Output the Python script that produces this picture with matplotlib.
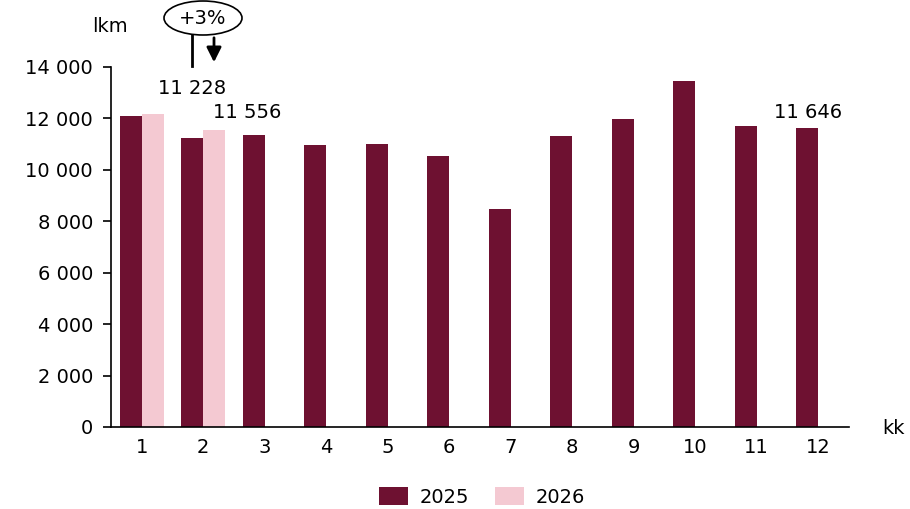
import numpy as np
import matplotlib.pyplot as plt
from matplotlib.patches import Ellipse

months = [str(m) for m in range(1, 13)]
values_2025 = [12100, 11228, 11360, 10970, 11010, 10545, 8480, 11320, 11980, 13460, 11710, 11646]
values_2026 = [12180, 11556]
series_names = ['2025', '2026']
colors = ['#6e1131', '#f4c9d2']

plt.rcParams['font.family'] = 'DejaVu Sans'
plt.rcParams['font.size'] = 14

fig = plt.figure(figsize=(9.1, 5.09), dpi=100)
ax = fig.add_axes([111 / 910, 1 - 427 / 509, 738 / 910, 360 / 509])

x = np.arange(1, len(months) + 1)
width = 0.355
ax.bar(x - width / 2, values_2025, width, color=colors[0], label=series_names[0])
ax.bar(x[:len(values_2026)] + width / 2, values_2026, width, color=colors[1], label=series_names[1])

ax.set_xlim(0.5, 12.5)
ax.set_ylim(0, 14000)
ax.set_yticks(np.arange(0, 14001, 2000))
ax.set_yticklabels([f'{v:,}'.replace(',', ' ') for v in range(0, 14001, 2000)])
ax.set_xticks(x)
ax.set_xticklabels(months)
ax.tick_params(axis='x', length=0, pad=8)
ax.tick_params(axis='y', length=6, width=1.2, pad=7)
for s in ['top', 'right']:
    ax.spines[s].set_visible(False)
for s in ['left', 'bottom']:
    ax.spines[s].set_linewidth(1.2)

def fmt(v):
    return f'{v:,}'.replace(',', ' ')

# value labels
ax.annotate(fmt(values_2025[1]), (192, 420), xycoords='figure pixels', ha='center', va='center')
ax.annotate(fmt(values_2026[1]), (247, 396), xycoords='figure pixels', ha='center', va='center')
ax.annotate(fmt(values_2025[11]), (808, 397), xycoords='figure pixels', ha='center', va='center')

# +3% bubble
fig.patches.append(Ellipse((203 / 910, 1 - 18 / 509), 78 / 910, 34 / 509,
                           transform=fig.transFigure, fill=False, ec='black', lw=1.2))
fig.text(203 / 910, 1 - 18 / 509, '+3%', ha='center', va='center', fontsize=14)
fig.add_artist(plt.Line2D([192 / 910, 192 / 910], [1 - 35 / 509, 1 - 66 / 509],
                          transform=fig.transFigure, color='black', lw=2))
ax.annotate('', xy=(214, 509 - 65), xytext=(214, 509 - 35), xycoords='figure pixels',
            textcoords='figure pixels',
            arrowprops=dict(arrowstyle='-|>', color='black', lw=2, mutation_scale=22))

fig.text(110 / 910, 1 - 26 / 509, 'lkm', ha='center', va='center', fontsize=14)
fig.text(893 / 910, 1 - 429 / 509, 'kk', ha='center', va='center', fontsize=14)

fig.legend(loc='center', bbox_to_anchor=(482 / 910, 1 - 497 / 509), ncol=2, frameon=False,
           handlelength=1.5, handleheight=1.05, columnspacing=1.3, handletextpad=0.6,
           borderpad=0, borderaxespad=0)

fig.savefig('out.png', dpi=100)
